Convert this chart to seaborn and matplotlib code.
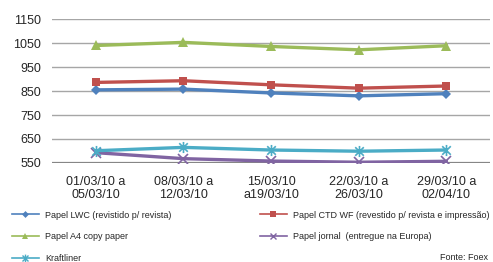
import numpy as np
import pandas as pd
import matplotlib
matplotlib.use("Agg")
import matplotlib.pyplot as plt
from matplotlib.path import Path
from matplotlib.lines import Line2D
import seaborn as sns

# dados (US$/t)
semanas = ['01/03/10 a\n05/03/10', '08/03/10 a\n12/03/10', '15/03/10\na19/03/10',
           '22/03/10 a\n26/03/10', '29/03/10 a\n02/04/10']
lwc = [855, 858, 842, 830, 839]
ctd_wf = [886, 893, 876, 862, 871]
a4_copy = [1040, 1053, 1036, 1022, 1039]
jornal = [593, 568, 558, 553, 557]
kraftliner = [601, 615, 604, 599, 604]

nomes = ['Papel LWC (revistido p/ revista)',
         'Papel CTD WF (revestido p/ revista e impressão)',
         'Papel A4 copy paper',
         'Papel jornal  (entregue na Europa)',
         'Kraftliner']
series = [lwc, ctd_wf, a4_copy, jornal, kraftliner]
cores = ['#4f81bd', '#c0504d', '#9bbb59', '#8064a2', '#4bacc6']

# marcador "estrela" do Excel: x com traço vertical
estrela = Path([(-1, -1), (1, 1), (-1, 1), (1, -1), (0, -1.3), (0, 1.3)],
               [Path.MOVETO, Path.LINETO, Path.MOVETO, Path.LINETO, Path.MOVETO, Path.LINETO])
marcadores = ['D', 's', '^', 'x', estrela]
tamanhos = [5, 6, 7, 7, 8]

df = pd.DataFrame({'semana': np.tile(np.arange(len(semanas)), len(nomes)),
                   'serie': np.repeat(nomes, len(semanas)),
                   'valor': np.concatenate(series)})

plt.rcParams['font.family'] = ['Liberation Sans', 'DejaVu Sans']

fig = plt.figure(figsize=(4.93, 2.62), dpi=100)
ax = fig.add_axes([0.1055, 0.378, 0.8885, 0.549])

for y in [650, 750, 850, 950, 1050, 1150]:
    ax.axhline(y, color='#a6a6a6', lw=1.0, zorder=0)
ax.axhline(550, color='#868686', lw=1.6, zorder=0)

handles = []
for nome, cor, mk, ms in zip(nomes, cores, marcadores, tamanhos):
    sub = df[df['serie'] == nome]
    filled = mk not in ('x',) and not isinstance(mk, Path)
    sns.lineplot(data=sub, x='semana', y='valor', ax=ax, color=cor, lw=2.4,
                 marker=mk, markersize=ms, markeredgecolor=cor,
                 markeredgewidth=0 if filled else 1.2, legend=False, zorder=3)
    handles.append(Line2D([], [], color=cor, lw=1.2, marker=mk,
                          markersize=ms * 0.7, markeredgecolor=cor,
                          markeredgewidth=0 if filled else 1.0))

ax.set_xlim(-0.5, 4.5)
ax.set_ylim(550, 1150)
ax.set_yticks([550, 650, 750, 850, 950, 1050, 1150])
ax.set_xticks(range(len(semanas)))
ax.set_xticklabels(semanas, fontsize=9, color='#262626', linespacing=1.05)
ax.tick_params(axis='y', labelsize=9, colors='#262626', length=0, pad=8)
ax.tick_params(axis='x', length=0, pad=9.5)
ax.set_xlabel('')
ax.set_ylabel('')
for s in ax.spines.values():
    s.set_visible(False)

leg_kw = dict(frameon=False, fontsize=6.45, handlelength=3.0, handletextpad=0.7,
              labelspacing=1.45, borderaxespad=0, borderpad=0, labelcolor='#262626')
fig.legend([handles[0], handles[2], handles[4]], [nomes[0], nomes[2], nomes[4]],
           loc='upper left', bbox_to_anchor=(12 / 493, 1 - 210.5 / 262), **leg_kw)
fig.legend([handles[1], handles[3]], [nomes[1], nomes[3]],
           loc='upper left', bbox_to_anchor=(260 / 493, 1 - 210.5 / 262), **leg_kw)
fig.text(488 / 493, 1 - 258 / 262, 'Fonte: Foex', ha='right', va='center',
         fontsize=6.5, color='#262626')

fig.savefig('out.png', dpi=100)
